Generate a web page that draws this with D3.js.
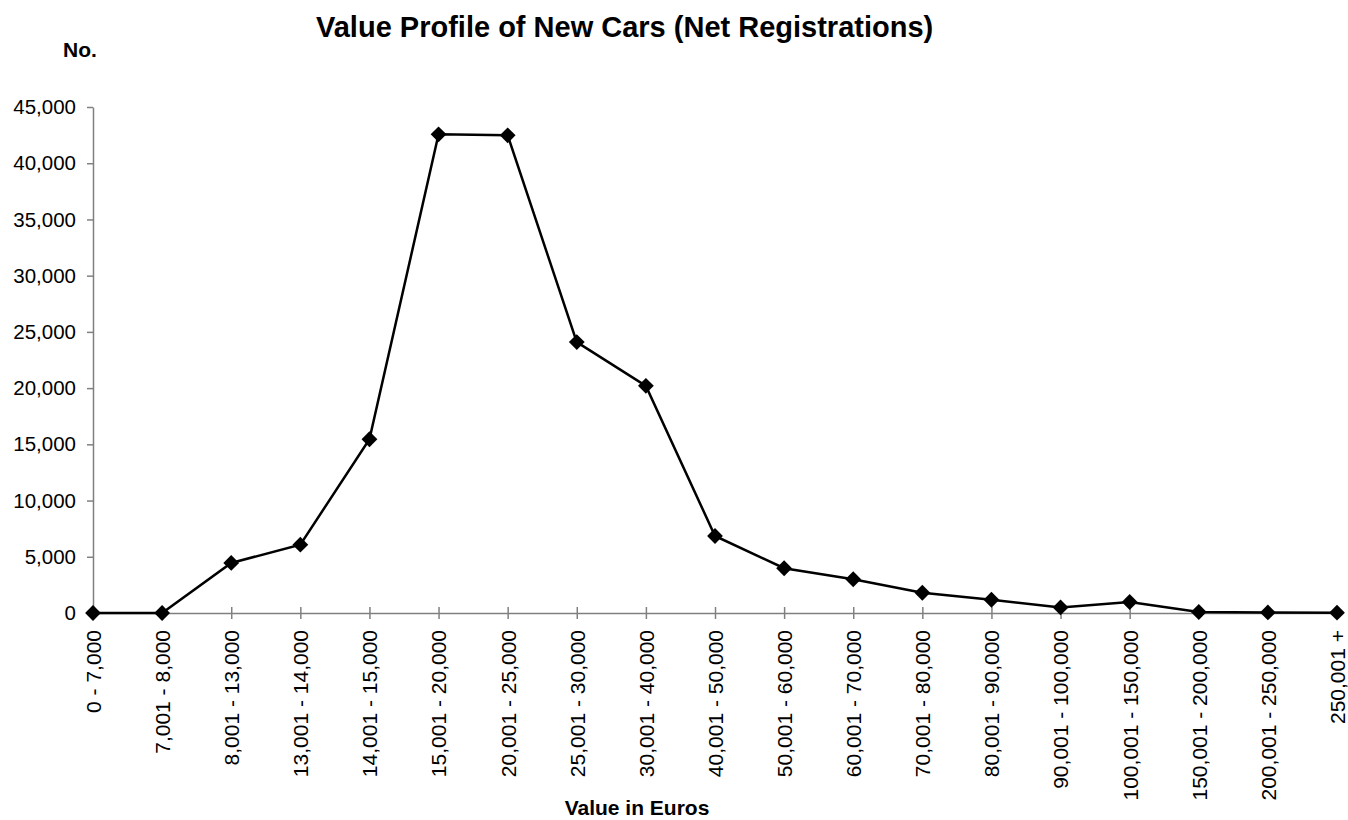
<!DOCTYPE html>
<html>
<head>
<meta charset="utf-8">
<script src="https://cdn.jsdelivr.net/npm/d3@7"></script>
<style>
  body { margin: 0; background: #fff; }
  text { font-family: Arial, "Liberation Sans", sans-serif; }
</style>
</head>
<body>
<div class="viz"></div>
<script>

// categories (value bands, euros)
let bands = ["0 - 7,000", "7,001 - 8,000", "8,001 - 13,000", "13,001 - 14,000",
  "14,001 - 15,000", "15,001 - 20,000", "20,001 - 25,000", "25,001 - 30,000",
  "30,001 - 40,000", "40,001 - 50,000", "50,001 - 60,000", "60,001 - 70,000",
  "70,001 - 80,000", "80,001 - 90,000", "90,001 - 100,000", "100,001 - 150,000",
  "150,001 - 200,000", "200,001 - 250,000", "250,001 +"];

// net registrations per band
let registrations = [0, 0, 4450, 6080, 15450, 42570, 42480, 24090, 20200, 6850,
  3980, 3000, 1800, 1180, 500, 980, 90, 50, 30];

let yTicks = [0, 5000, 10000, 15000, 20000, 25000, 30000, 35000, 40000, 45000];

let width = 1348;
let height = 820;
let margin = {top: 107, right: 11, bottom: 207, left: 93};

let svg = d3.select(".viz")
  .append("svg")
  .attr("width", width)
  .attr("height", height);

let x = d3.scalePoint()
  .domain(bands)
  .range([margin.left, width - margin.right]);

let y = d3.scaleLinear()
  .domain([0, 45000])
  .range([height - margin.bottom, margin.top]);

let axisColor = "#808080";

// y axis
let yAxis = svg.append("g")
  .attr("transform", "translate(" + margin.left + ",0)")
  .call(d3.axisLeft(y).tickValues(yTicks).tickSize(6).tickSizeOuter(0).tickPadding(11)
    .tickFormat(d3.format(",")));
yAxis.select(".domain").attr("stroke", axisColor).attr("stroke-width", 1.5);
yAxis.selectAll(".tick line").attr("stroke", axisColor).attr("stroke-width", 1.5);
yAxis.selectAll(".tick text")
  .attr("fill", "#000")
  .style("font-size", "20.5px")
  .attr("font-family", "Arial, 'Liberation Sans', sans-serif");

// x axis
let xAxis = svg.append("g")
  .attr("transform", "translate(0," + y(0) + ")")
  .call(d3.axisBottom(x).tickSizeInner(6).tickSizeOuter(0).tickPadding(0));
xAxis.select(".domain").attr("stroke", axisColor).attr("stroke-width", 1.5);
xAxis.selectAll(".tick line")
  .attr("stroke", axisColor)
  .attr("stroke-width", 1.5)
  .attr("y1", -6);
xAxis.selectAll(".tick text")
  .attr("fill", "#000")
  .style("font-size", "21px")
  .attr("font-family", "Arial, 'Liberation Sans', sans-serif")
  .attr("text-anchor", "end")
  .attr("transform", "rotate(-90)")
  .attr("x", -17)
  .attr("y", 0)
  .attr("dy", "0.35em");

// line
let line = d3.line()
  .x((d, i) => x(bands[i]))
  .y(d => y(d));

svg.append("path")
  .datum(registrations)
  .attr("d", line)
  .attr("fill", "none")
  .attr("stroke", "#000")
  .attr("stroke-width", 2.5);

// diamond markers
svg.selectAll(".marker")
  .data(registrations)
  .enter()
  .append("path")
  .attr("class", "marker")
  .attr("d", d3.symbol().type(d3.symbolSquare).size(125))
  .attr("transform", (d, i) => "translate(" + x(bands[i]) + "," + y(d) + ") rotate(45)")
  .attr("fill", "#000");

// titles
svg.append("text")
  .attr("x", 316)
  .attr("y", 37)
  .attr("font-weight", "bold")
  .style("font-size", "29px")
  .text("Value Profile of New Cars (Net Registrations)");

svg.append("text")
  .attr("x", 63)
  .attr("y", 57)
  .attr("font-weight", "bold")
  .style("font-size", "21px")
  .text("No.");

svg.append("text")
  .attr("x", 637)
  .attr("y", 815)
  .attr("text-anchor", "middle")
  .attr("font-weight", "bold")
  .style("font-size", "21px")
  .text("Value in Euros");

</script>
</body>
</html>
